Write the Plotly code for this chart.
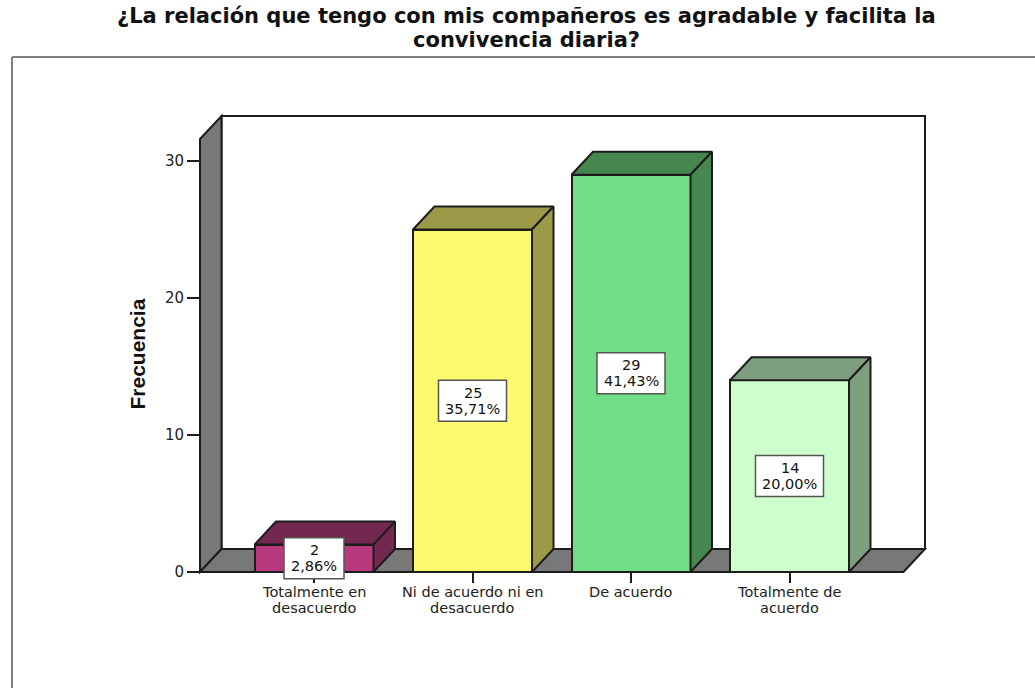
import plotly.graph_objects as go

title_lines = ["¿La relación que tengo con mis compañeros es agradable y facilita la", "convivencia diaria?"]
categories = [["Totalmente en", "desacuerdo"], ["Ni de acuerdo ni en", "desacuerdo"], ["De acuerdo"], ["Totalmente de", "acuerdo"]]
values = [2, 25, 29, 14]
percents = ["2,86%", "35,71%", "41,43%", "20,00%"]
y_ticks = [0, 10, 20, 30]
front_colors = ["#B83A7C", "#FDF96F", "#70DE86", "#CCFFCC"]
side_colors = ["#73294F", "#9C9A49", "#46864F", "#7E9F7E"]

W, H = 1035, 688
L, R, T, B = 200, 925, 116, 572
UX = 158.5            # px per category
UY = 13.7             # px per frequency unit
X0 = 314              # px of first category
xmin = (L - X0) / UX
xmax = (R - X0) / UX
ymax = (B - T) / UY
DX = 21.5 / UX        # depth offset
DY = 23 / UY
BW = 119 / UX
INK = "#1c1c1c"
FONT = "DejaVu Sans"


def px(x):
    return (x - xmin) / (xmax - xmin)


def py(y):
    return y / ymax


idx = list(range(len(values)))
fig = go.Figure()
fig.add_trace(go.Bar(x=idx, y=values, width=BW, cliponaxis=False,
                     marker=dict(color=front_colors, line=dict(color=INK, width=2)),
                     showlegend=False, hoverinfo="skip"))
for i, v in zip(idx, values):
    a, b = i - BW / 2, i + BW / 2
    fig.add_trace(go.Scatter(x=[a, a + DX, b + DX, b, a], y=[v, v + DY, v + DY, v, v], mode="lines", fill="toself",
                             cliponaxis=False, fillcolor=side_colors[i], line=dict(color=INK, width=2),
                             showlegend=False, hoverinfo="skip"))
    fig.add_trace(go.Scatter(x=[b, b + DX, b + DX, b, b], y=[v, v + DY, DY, 0, v], mode="lines", fill="toself",
                             cliponaxis=False, fillcolor=side_colors[i], line=dict(color=INK, width=2),
                             showlegend=False, hoverinfo="skip"))

line = dict(color=INK, width=2)
x_front_end = xmax - DX
wall_left = [(xmin, 0), (xmin + DX, DY), (xmin + DX, ymax), (xmin, ymax - DY)]
floor = [(xmin, 0), (xmin + DX, DY), (xmax, DY), (x_front_end, 0)]


def poly(points):
    return "M" + " L".join(f"{px(x)},{py(y)}" for x, y in points) + " Z"


shapes = [
    dict(type="rect", xref="paper", yref="paper", x0=px(xmin + DX), x1=px(xmax), y0=py(DY), y1=py(ymax), fillcolor="white", line=line, layer="below"),
    dict(type="path", xref="paper", yref="paper", layer="below", fillcolor="#787878", line=line, path=poly(wall_left)),
    dict(type="path", xref="paper", yref="paper", layer="below", fillcolor="#787878", line=line, path=poly(floor)),
    dict(type="line", xref="paper", yref="paper", x0=(12 - L) / (R - L), x1=(12 - L) / (R - L),
         y0=(B - 57) / (B - T), y1=(B - H - 5) / (B - T), line=dict(color="#808080", width=2)),
    dict(type="line", xref="paper", yref="paper", x0=(12 - L) / (R - L), x1=(W + 5 - L) / (R - L),
         y0=(B - 57) / (B - T), y1=(B - 57) / (B - T), line=dict(color="#808080", width=2)),
]

annotations = []
for k, text in enumerate(title_lines):
    annotations.append(dict(text=f"<b>{text}</b>", xref="paper", yref="paper", x=(526.5 - L) / (R - L), y=(B - 16 - 24.5 * k) / (B - T),
                            showarrow=False, xanchor="center", yanchor="middle", font=dict(family=FONT, size=21, color="#111111")))
annotations.append(dict(text="<b>Frecuencia</b>", xref="paper", yref="paper", x=(137 - L) / (R - L), y=(B - 354.5) / (B - T), textangle=-90,
                        showarrow=False, xanchor="center", yanchor="middle", font=dict(family="Liberation Sans", size=21, color="#111111")))
for i, lines in zip(idx, categories):
    for k, text in enumerate(lines):
        annotations.append(dict(text=text, xref="x", yref="paper", x=i, y=0, yshift=-20 - 16 * k, showarrow=False,
                                xanchor="center", yanchor="middle", font=dict(family=FONT, size=14.5, color="#222222")))
for s in shapes:
    fig.add_shape(**s)
for i, v, p in zip(idx, values, percents):
    box_w, box_h = (60, 41) if i == 0 else (68, 41)
    fig.add_shape(type="rect", xref="paper", yref="paper", x0=px(i - box_w / 2 / UX), x1=px(i + box_w / 2 / UX),
                  y0=py(v / 2 - box_h / 2 / UY), y1=py(v / 2 + box_h / 2 / UY), fillcolor="white",
                  line=dict(color="#555555", width=1.5), layer="above")
    annotations.append(dict(text=str(v), xref="x", yref="y", x=i, y=v / 2, yshift=8, showarrow=False, font=dict(family=FONT, size=14.5, color="#111111")))
    annotations.append(dict(text=p, xref="x", yref="y", x=i, y=v / 2, yshift=-8, showarrow=False, font=dict(family=FONT, size=14.5, color="#111111")))

fig.update_layout(
    width=W, height=H, margin=dict(l=L, r=W - R, t=T, b=H - B, pad=0),
    paper_bgcolor="white", plot_bgcolor="rgba(0,0,0,0)", annotations=annotations, bargap=0,
    font=dict(family=FONT, size=15, color="#222222"),
    xaxis=dict(range=[xmin, xmax], tickvals=idx, ticktext=[""] * 4, ticks="outside", ticklen=10, tickwidth=1.5, tickcolor=INK,
               showgrid=False, zeroline=False, showline=False, fixedrange=True),
    yaxis=dict(range=[0, ymax], tickvals=y_ticks, ticks="outside", ticklen=12, tickwidth=1.5, tickcolor=INK,
               showgrid=False, zeroline=False, showline=False, fixedrange=True),
)
fig.write_html("out.html", config=dict(displayModeBar=False), post_script="document.body.style.margin='0';document.body.style.overflow='hidden';")
